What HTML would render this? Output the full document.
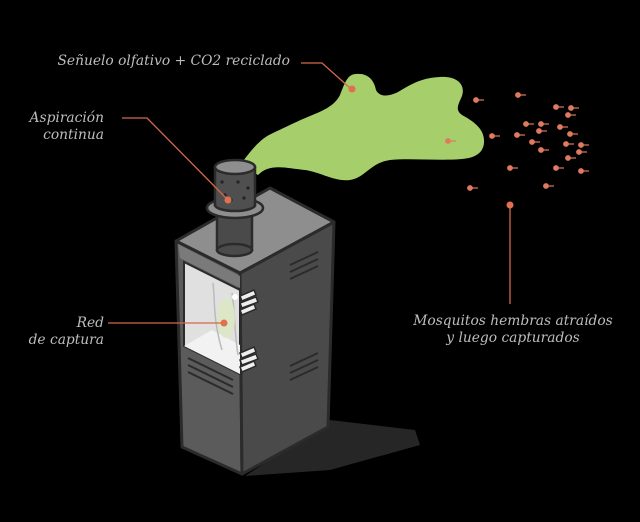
<!DOCTYPE html>
<html><head><meta charset="utf-8"><style>
html,body{margin:0;padding:0;background:#000;width:640px;height:522px;overflow:hidden}
svg{display:block}
text{font-family:"DejaVu Serif","Liberation Serif",serif;font-style:italic;fill:#bdbdbd;font-size:13.8px}
</style></head><body>
<svg width="640" height="522" viewBox="0 0 640 522">
<polygon points="300,440 330,420 415,430 420,445 330,470 245,476" fill="#262626"/>
<path d="M240,165 C255,145 262,138 273,133 C290,125 300,120 310,116 C325,110 335,105 340,95 C345,82 348,74 356,74 C368,73 374,80 376,90 C380,98 390,96 398,92 C410,85 420,78 440,77 C455,76 466,83 462,96 C458,105 455,110 462,115 C475,122 485,130 484,143 C483,153 475,158 462,159 C440,161 410,158 390,160 C370,163 365,178 350,180 C335,182 320,172 305,170 C285,168 270,163 258,175 Z" fill="#a6cf6c"/>
<polygon points="176,241 240,273 242,474 182,447" fill="#5b5b5b" stroke="#2b2b2b" stroke-width="3" stroke-linejoin="round"/>
<polygon points="240,273 334,222 328,427 242,474" fill="#4a4a4a" stroke="#2b2b2b" stroke-width="3" stroke-linejoin="round"/>
<polygon points="176,241 270,188 334,222 240,273" fill="#8e8e8e" stroke="#2b2b2b" stroke-width="3" stroke-linejoin="round"/>
<polygon points="178,244 240,276 240,288 180,258" fill="#7a7a7a"/>
<polygon points="184,262 240,290 240,374 184,346" fill="#e0e0e0" stroke="#2b2b2b" stroke-width="2"/>
<polygon points="184,346 240,374 240,345 212,330" fill="#f2f2f2"/>
<path d="M213,283 C215,300 213,320 222,350 M232,293 C235,310 234,330 238,355" stroke="#bbb" stroke-width="1.5" fill="none"/>
<ellipse cx="226" cy="318" rx="9" ry="20" fill="#dbe8c4" opacity="0.9"/>
<circle cx="235" cy="297" r="3" fill="#fff"/>
<g stroke="#2b2b2b" stroke-width="1.5" fill="#eee">
<polygon points="240,296 254,290 256,295 242,301"/><polygon points="240,303 256,297 258,302 242,308"/><polygon points="240,310 254,304 256,309 242,315"/>
<polygon points="240,353 254,347 256,352 242,358"/><polygon points="240,360 256,354 258,359 242,365"/><polygon points="240,367 254,361 256,366 242,372"/>
</g>
<g stroke="#2b2b2b" stroke-width="2">
<line x1="290" y1="265" x2="318" y2="252"/><line x1="290" y1="272" x2="318" y2="259"/><line x1="290" y1="279" x2="318" y2="266"/>
<line x1="290" y1="366" x2="318" y2="353"/><line x1="290" y1="373" x2="318" y2="360"/><line x1="290" y1="380" x2="318" y2="367"/>
<line x1="188" y1="358" x2="233" y2="380"/><line x1="188" y1="365" x2="233" y2="387"/><line x1="188" y1="372" x2="233" y2="394"/>
</g>
<rect x="217" y="208" width="35" height="42" fill="#4a4a4a" stroke="#2b2b2b" stroke-width="2.5"/>
<ellipse cx="234.5" cy="250" rx="17.5" ry="6" fill="#4a4a4a" stroke="#2b2b2b" stroke-width="2.5"/>
<ellipse cx="235" cy="208" rx="28" ry="10" fill="#8e8e8e" stroke="#2b2b2b" stroke-width="2.5"/>
<rect x="215" y="167" width="40" height="38" fill="#4f4f4f" stroke="#2b2b2b" stroke-width="2.5"/>
<ellipse cx="235" cy="205" rx="20" ry="6" fill="#4f4f4f" stroke="#2b2b2b" stroke-width="2.5"/>
<rect x="216.3" y="190" width="37.4" height="14" fill="#4f4f4f"/>
<ellipse cx="235" cy="167" rx="20" ry="7" fill="#8e8e8e" stroke="#2b2b2b" stroke-width="2.5"/>
<g fill="#222"><circle cx="222" cy="182" r="1.6"/><circle cx="238" cy="182" r="1.6"/><circle cx="248" cy="188" r="1.6"/><circle cx="225" cy="195" r="1.6"/><circle cx="244" cy="198" r="1.6"/><circle cx="231" cy="200" r="1.6"/></g>
<g stroke="#d2694a" stroke-width="1.3" fill="none">
<polyline points="301,63 322,63 350,88"/>
<polyline points="122,118 147,118 228,200"/>
<line x1="108" y1="323" x2="224" y2="323"/>
<line x1="510" y1="205" x2="510" y2="304"/>
</g>
<g fill="#e0704f">
<circle cx="352" cy="89" r="3.5"/><circle cx="228" cy="200" r="3.5"/><circle cx="224" cy="323" r="3.5"/><circle cx="510" cy="205" r="3.5"/>
</g>
<g fill="#e07a5f" stroke="#e07a5f" stroke-width="1.2">
<circle cx="476" cy="100" r="2.3"/><line x1="476" y1="100" x2="484" y2="100"/>
<circle cx="518" cy="95" r="2.3"/><line x1="518" y1="95" x2="526" y2="95"/>
<circle cx="556" cy="107" r="2.3"/><line x1="556" y1="107" x2="564" y2="107"/>
<circle cx="571" cy="108" r="2.3"/><line x1="571" y1="108" x2="579" y2="108"/>
<circle cx="568" cy="115" r="2.3"/><line x1="568" y1="115" x2="576" y2="115"/>
<circle cx="526" cy="124" r="2.3"/><line x1="526" y1="124" x2="534" y2="124"/>
<circle cx="541" cy="124" r="2.3"/><line x1="541" y1="124" x2="549" y2="124"/>
<circle cx="560" cy="127" r="2.3"/><line x1="560" y1="127" x2="568" y2="127"/>
<circle cx="492" cy="136" r="2.3"/><line x1="492" y1="136" x2="500" y2="136"/>
<circle cx="517" cy="135" r="2.3"/><line x1="517" y1="135" x2="525" y2="135"/>
<circle cx="539" cy="131" r="2.3"/><line x1="539" y1="131" x2="547" y2="131"/>
<circle cx="570" cy="134" r="2.3"/><line x1="570" y1="134" x2="578" y2="134"/>
<circle cx="581" cy="145" r="2.3"/><line x1="581" y1="145" x2="589" y2="145"/>
<circle cx="579" cy="152" r="2.3"/><line x1="579" y1="152" x2="587" y2="152"/>
<circle cx="532" cy="142" r="2.3"/><line x1="532" y1="142" x2="540" y2="142"/>
<circle cx="541" cy="150" r="2.3"/><line x1="541" y1="150" x2="549" y2="150"/>
<circle cx="566" cy="144" r="2.3"/><line x1="566" y1="144" x2="574" y2="144"/>
<circle cx="568" cy="158" r="2.3"/><line x1="568" y1="158" x2="576" y2="158"/>
<circle cx="556" cy="168" r="2.3"/><line x1="556" y1="168" x2="564" y2="168"/>
<circle cx="581" cy="171" r="2.3"/><line x1="581" y1="171" x2="589" y2="171"/>
<circle cx="510" cy="168" r="2.3"/><line x1="510" y1="168" x2="518" y2="168"/>
<circle cx="546" cy="186" r="2.3"/><line x1="546" y1="186" x2="554" y2="186"/>
<circle cx="470" cy="188" r="2.3"/><line x1="470" y1="188" x2="478" y2="188"/>
<circle cx="448" cy="141" r="2.3"/><line x1="448" y1="141" x2="456" y2="141"/>
</g>
<text x="290" y="65" text-anchor="end">Señuelo olfativo + CO2 reciclado</text>
<text x="104" y="122" text-anchor="end">Aspiración</text>
<text x="104" y="139" text-anchor="end">continua</text>
<text x="104" y="327" text-anchor="end">Red</text>
<text x="104" y="344" text-anchor="end">de captura</text>
<text x="513" y="325" text-anchor="middle">Mosquitos hembras atraídos</text>
<text x="513" y="342" text-anchor="middle">y luego capturados</text>
</svg>
</body></html>
